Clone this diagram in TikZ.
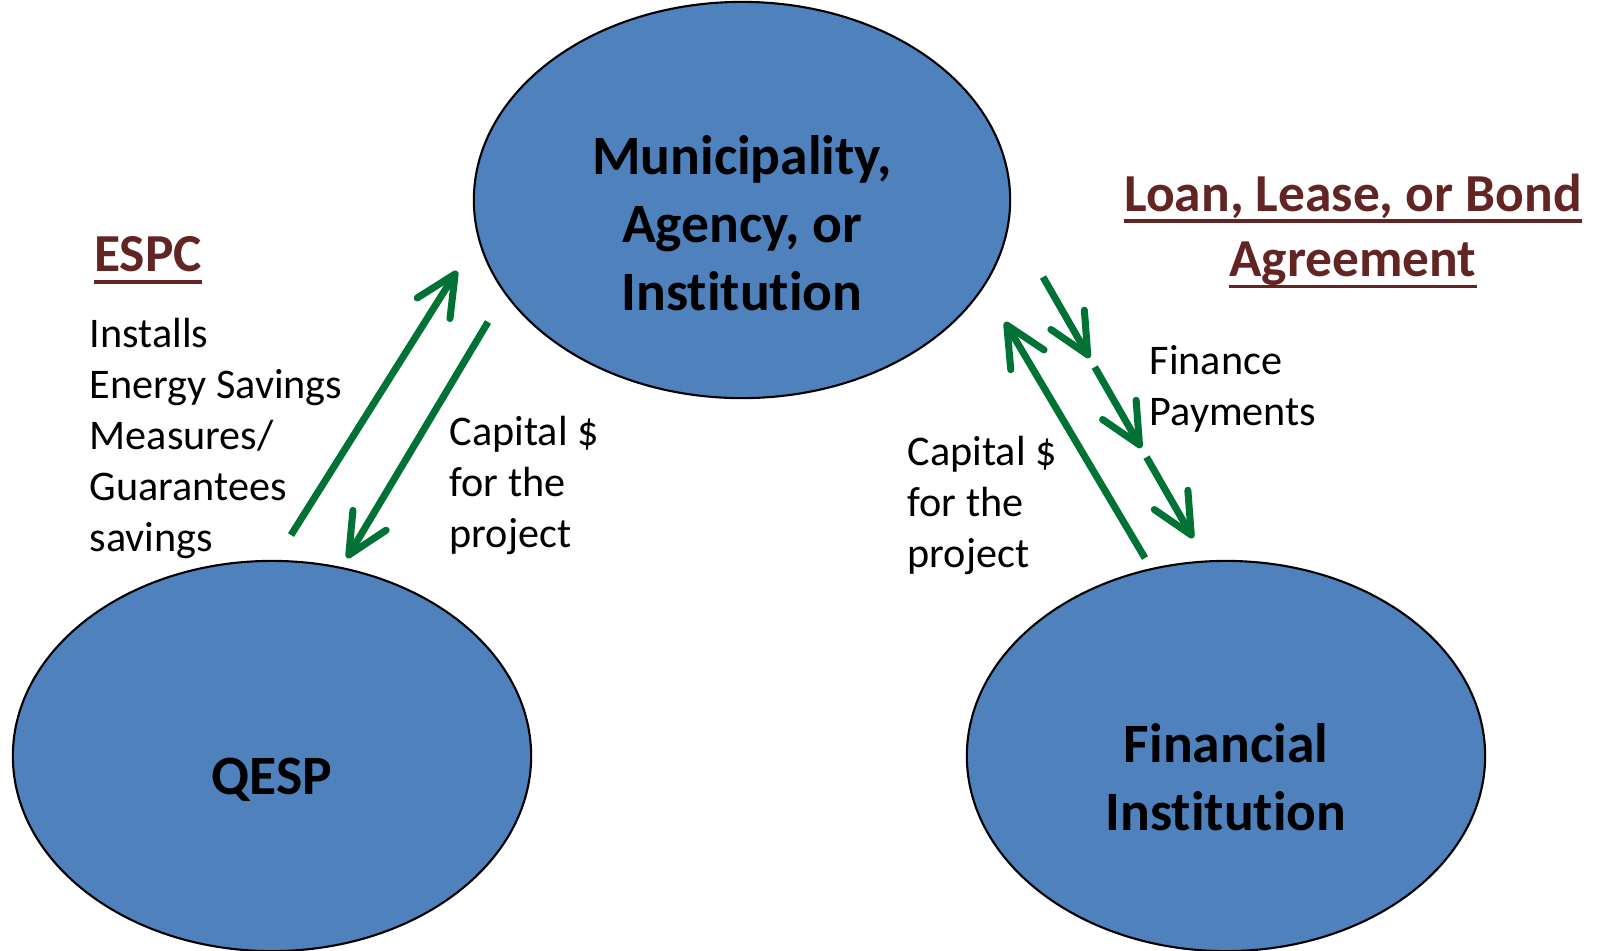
\documentclass[tikz,border=0pt]{standalone}
\usepackage{fontspec}
\setmainfont{Carlito}[Ligatures=NoCommon]
\usepackage{tikz}
\usetikzlibrary{calc}
\usetikzlibrary{arrows.meta}
\usetikzlibrary{shapes.geometric}
\definecolor{actorblue}{RGB}{79,129,189}
\definecolor{flowgreen}{RGB}{0,114,54}
\definecolor{headred}{RGB}{99,37,35}
\newsavebox{\ulbox}
\newcommand{\ulbar}[1]{\sbox{\ulbox}{#1}\rlap{\rule[-3.4pt]{\wd\ulbox}{1.1pt}}\usebox{\ulbox}}

\begin{document}
\begin{tikzpicture}[
x=0.01cm, y=-0.01cm,
Actor/.style={ellipse,draw=black,line width=0.6pt,fill=actorblue,inner sep=0pt},
Flow/.style={draw=flowgreen,line width=2pt,-{Straight Barb[length=11.5pt, width=11pt, round]}},
BigText/.style={font=\fontsize{15.8}{19.35}\selectfont\bfseries,align=center,inner sep=0pt},
Heading/.style={font=\fontsize{15.2}{18.6}\selectfont\bfseries,align=center,inner sep=0pt,text=headred},
SmallText/.style={font=\fontsize{12}{14.5}\selectfont,align=left,anchor=west,inner sep=0pt}
]
\useasboundingbox (0,0) rectangle (1599,950);

% the three parties
\node[Actor,minimum width=5.36cm,minimum height=3.96cm] (muni) at (742,200) {};
\node[Actor,minimum width=5.18cm,minimum height=3.90cm] (qesp) at (272,756) {};
\node[Actor,minimum width=5.18cm,minimum height=3.90cm] (fin) at (1226,756) {};

\node[BigText] (munitext) at (742,223) {Municipality,\\Agency, or\\Institution};
\node[BigText] (qesptext) at (272,780) {QESP};
\node[BigText] (fintext) at (1226,777) {Financial\\Institution};

% agreements
\node[Heading] (espc) at (148,260) {\ulbar{ESPC}};
\node[Heading] (loan) at (1353,231) {\ulbar{Loan, Lease, or Bond}\\\ulbar{Agreement}};

% flow labels
\node[SmallText] (install) at (89,438) {Installs\\Energy Savings\\Measures/\\Guarantees\\savings};
\node[SmallText] (capleft) at (449,485) {Capital \$\\for the\\project};
\node[SmallText] (capright) at (907,505) {Capital \$\\for the\\project};
\node[SmallText] (pay) at (1149,389) {Finance\\Payments};

% arrow ends
\coordinate (espcTail) at (291,535);
\coordinate (espcHead) at (457,271);
\coordinate (capTail) at (488,322);
\coordinate (capHead) at (347,558);
\coordinate (finTail) at (1145,558);
\coordinate (finHead) at (1005,322);
\coordinate (payTail) at (1043,277);
\coordinate (payHead) at (1193,538);

\draw[Flow] (espcTail) -- (espcHead);
\draw[Flow] (capTail) -- (capHead);
\draw[Flow] (finTail) -- (finHead);
\foreach \s/\e in {0/0.31,0.345/0.655,0.69/1}
  \draw[Flow] ($(payTail)!\s!(payHead)$) -- ($(payTail)!\e!(payHead)$);

\end{tikzpicture}
\end{document}
